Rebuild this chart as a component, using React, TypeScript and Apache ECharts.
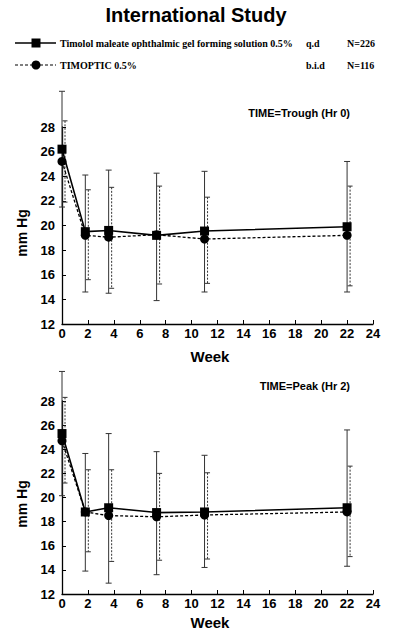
import React, { useEffect, useRef } from "react";
import * as echarts from "echarts";

const weeks = [0, 1.8, 3.6, 7.3, 11, 22];
const xTicks = [0, 2, 4, 6, 8, 10, 12, 14, 16, 18, 20, 22, 24];
const yTicks = [12, 14, 16, 18, 20, 22, 24, 26, 28];

// Trough (Hr 0)
const troughGelMean = [26.2, 19.5, 19.6, 19.2, 19.55, 19.9];
const troughGelHigh = [30.9, 24.1, 24.5, 24.25, 24.4, 25.2];
const troughGelLow = [21.5, 14.6, 14.5, 13.9, 14.6, 14.6];
const troughTimMean = [25.2, 19.2, 19.05, 19.25, 18.9, 19.2];
const troughTimHigh = [28.5, 22.9, 23.1, 23.2, 22.3, 23.2];
const troughTimLow = [21.9, 15.6, 14.9, 15.25, 15.3, 15.1];

// Peak (Hr 2)
const peakGelMean = [25.3, 18.8, 19.15, 18.75, 18.8, 19.15];
const peakGelHigh = [30.45, 23.65, 25.3, 23.8, 23.5, 25.6];
const peakGelLow = [20.15, 13.9, 12.9, 13.6, 14.2, 14.3];
const peakTimMean = [24.7, 18.8, 18.5, 18.4, 18.55, 18.8];
const peakTimHigh = [28.3, 22.3, 22.3, 22.0, 22.05, 22.6];
const peakTimLow = [21.2, 15.5, 14.7, 14.8, 14.9, 15.1];

const legendRows = [
  { name: "Timolol maleate ophthalmic gel forming solution 0.5%", dose: "q.d", n: "N=226" },
  { name: "TIMOPTIC 0.5%", dose: "b.i.d", n: "N=116" },
];
const title = "International Study";
const panelTitles = ["TIME=Trough (Hr 0)", "TIME=Peak (Hr 2)"];

const SANS = "'Liberation Sans', Arial, Helvetica, sans-serif";
const SERIF = "'Liberation Serif', 'Times New Roman', serif";

function pairs(xs: number[], ys: number[]) {
  return xs.map((x, i) => [x, ys[i]]);
}
function triples(xs: number[], lo: number[], hi: number[]) {
  return xs.map((x, i) => [x, lo[i], hi[i]]);
}

function errorSeries(data: number[][], idx: number, dashed: boolean) {
  const offset = dashed ? 3 : 0;
  return {
    type: "custom",
    xAxisIndex: idx,
    yAxisIndex: idx,
    clip: false,
    z: 1,
    encode: { x: 0, y: [1, 2] },
    data,
    renderItem: (_params: any, api: any) => {
      const x = api.value(0);
      const lo = api.value(1);
      const hi = api.value(2);
      const pHi = api.coord([x, hi]);
      const pLo = api.coord([x, lo]);
      const cx = pHi[0] + offset;
      const cap = dashed ? 2.5 : 3;
      const lineStyle: any = { stroke: "#333", lineWidth: 1, lineDash: dashed ? [2, 1.5] : null };
      const capStyle: any = { stroke: "#333", lineWidth: 1 };
      return {
        type: "group",
        children: [
          { type: "line", shape: { x1: cx, y1: pHi[1], x2: cx, y2: pLo[1] }, style: lineStyle },
          { type: "line", shape: { x1: cx - cap, y1: pHi[1], x2: cx + cap, y2: pHi[1] }, style: capStyle },
          { type: "line", shape: { x1: cx - cap, y1: pLo[1], x2: cx + cap, y2: pLo[1] }, style: capStyle },
        ],
      };
    },
  };
}

function lineSeries(data: number[][], idx: number, dashed: boolean) {
  return {
    type: "line",
    xAxisIndex: idx,
    yAxisIndex: idx,
    data,
    z: 3,
    symbol: dashed ? "circle" : "rect",
    symbolSize: dashed ? 9 : 9,
    itemStyle: { color: "#000" },
    lineStyle: { color: "#000", width: dashed ? 1.3 : 1.6, type: dashed ? [3, 2] : "solid" },
  };
}

function xAxis(idx: number) {
  return {
    type: "value",
    gridIndex: idx,
    min: 0,
    max: 24,
    interval: 2,
    splitLine: { show: false },
    axisLine: { show: true, onZero: false, lineStyle: { color: "#000", width: 1.3 } },
    axisTick: { show: true, inside: true, length: 4, lineStyle: { color: "#000" } },
    axisLabel: {
      color: "#000",
      fontFamily: SANS,
      fontWeight: "bold",
      fontSize: 13,
      margin: 3,
      formatter: (v: number) => (xTicks.includes(v) ? String(v) : ""),
    },
  };
}

function yAxis(idx: number) {
  return {
    type: "value",
    gridIndex: idx,
    min: 12,
    max: 28,
    interval: 2,
    splitLine: { show: false },
    axisLine: { show: true, onZero: false, lineStyle: { color: "#000", width: 1.3 } },
    axisTick: { show: true, inside: true, length: 4, lineStyle: { color: "#000" } },
    axisLabel: {
      color: "#000",
      fontFamily: SANS,
      fontWeight: "bold",
      fontSize: 13,
      margin: 7,
      formatter: (v: number) => (yTicks.includes(v) ? String(v) : ""),
    },
  };
}

export default function App() {
  const ref = useRef<HTMLDivElement>(null);
  useEffect(() => {
    document.body.style.margin = "0";
    const chart = echarts.init(ref.current!, null, { renderer: "svg" });
    const legendGraphic: any[] = [];
    const rowY = [43, 65];
    legendRows.forEach((r, i) => {
      const y = rowY[i];
      legendGraphic.push({
        type: "line",
        shape: { x1: 15, y1: y, x2: 56, y2: y },
        style: { stroke: "#000", lineWidth: i === 0 ? 1.5 : 1.2, lineDash: i === 0 ? null : [3, 2] },
      });
      if (i === 0) {
        legendGraphic.push({ type: "rect", shape: { x: 31.5, y: y - 4.5, width: 9, height: 9 }, style: { fill: "#000" } });
      } else {
        legendGraphic.push({ type: "circle", shape: { cx: 36, cy: y, r: 4.5 }, style: { fill: "#000" } });
      }
      legendGraphic.push({
        type: "text",
        x: 60,
        y,
        style: { text: r.name, font: `bold 10px ${SERIF}`, fill: "#000", verticalAlign: "middle" },
      });
      legendGraphic.push({
        type: "text",
        x: 306,
        y,
        style: { text: r.dose, font: `bold 10px ${SERIF}`, fill: "#000", verticalAlign: "middle" },
      });
      legendGraphic.push({
        type: "text",
        x: 347,
        y,
        style: { text: r.n, font: `bold 10px ${SERIF}`, fill: "#000", verticalAlign: "middle" },
      });
    });

    const textGraphic: any[] = [
      {
        type: "text",
        x: 196,
        y: 15,
        style: { text: title, font: `bold 20px ${SANS}`, fill: "#000", align: "center", verticalAlign: "middle" },
      },
      {
        type: "text",
        x: 350,
        y: 113,
        style: { text: panelTitles[0], font: `bold 11px ${SANS}`, fill: "#000", align: "right", verticalAlign: "middle" },
      },
      {
        type: "text",
        x: 350,
        y: 386,
        style: { text: panelTitles[1], font: `bold 11px ${SANS}`, fill: "#000", align: "right", verticalAlign: "middle" },
      },
      {
        type: "text",
        x: 210,
        y: 356,
        style: { text: "Week", font: `bold 15px ${SANS}`, fill: "#000", align: "center", verticalAlign: "middle" },
      },
      {
        type: "text",
        x: 210,
        y: 622,
        style: { text: "Week", font: `bold 15px ${SANS}`, fill: "#000", align: "center", verticalAlign: "middle" },
      },
      {
        type: "text",
        x: 22,
        y: 233,
        rotation: Math.PI / 2,
        style: { text: "mm Hg", font: `bold 14px ${SANS}`, fill: "#000", align: "center", verticalAlign: "middle" },
      },
      {
        type: "text",
        x: 22,
        y: 504,
        rotation: Math.PI / 2,
        style: { text: "mm Hg", font: `bold 14px ${SANS}`, fill: "#000", align: "center", verticalAlign: "middle" },
      },
    ];

    chart.setOption({
      animation: false,
      backgroundColor: "#fff",
      grid: [
        { left: 62, right: 27, top: 127, bottom: 307 },
        { left: 62, right: 27, top: 401, bottom: 37 },
      ],
      xAxis: [xAxis(0), xAxis(1)],
      yAxis: [yAxis(0), yAxis(1)],
      graphic: [...legendGraphic, ...textGraphic],
      series: [
        errorSeries(triples(weeks, troughGelLow, troughGelHigh), 0, false),
        errorSeries(triples(weeks, troughTimLow, troughTimHigh), 0, true),
        lineSeries(pairs(weeks, troughTimMean), 0, true),
        lineSeries(pairs(weeks, troughGelMean), 0, false),
        errorSeries(triples(weeks, peakGelLow, peakGelHigh), 1, false),
        errorSeries(triples(weeks, peakTimLow, peakTimHigh), 1, true),
        lineSeries(pairs(weeks, peakTimMean), 1, true),
        lineSeries(pairs(weeks, peakGelMean), 1, false),
      ],
    });
    return () => chart.dispose();
  }, []);
  return <div ref={ref} style={{ width: 400, height: 631 }} />;
}
